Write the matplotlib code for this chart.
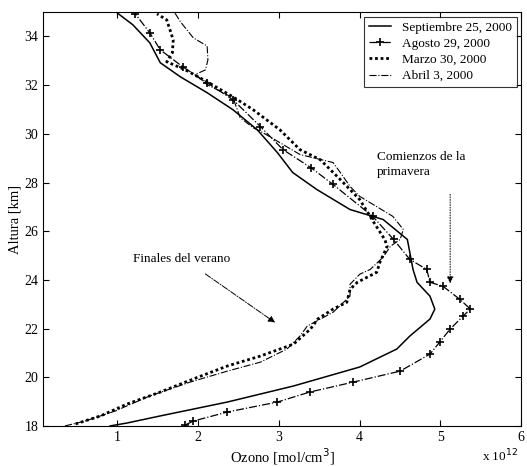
import numpy as np
import matplotlib
matplotlib.use("Agg")
import matplotlib.pyplot as plt

plt.rcParams['font.family'] = ['Liberation Serif', 'DejaVu Serif']

# ozone in units of 1e12 mol/cm^3, altitude in km
sep_oz = [0.91, 1.12, 1.53, 2.36, 3.18, 4.00, 4.46, 4.62, 4.87, 4.93, 4.87, 4.71, 4.66, 4.59,
          4.29, 3.88, 3.47, 3.17, 2.98, 2.73, 2.43, 2.11, 1.78, 1.53, 1.40, 1.19, 0.996]
sep_alt = [18.0, 18.12, 18.41, 18.98, 19.64, 20.42, 21.16, 21.69, 22.39, 22.80, 23.33, 23.90, 24.43, 25.66,
           26.48, 26.89, 27.71, 28.41, 29.23, 30.17, 30.99, 31.69, 32.34, 32.92, 33.74, 34.48, 34.97]

ago_oz = [1.84, 1.94, 2.36, 2.98, 3.38, 3.92, 4.50, 4.87, 4.99, 5.12, 5.28, 5.37, 5.24, 5.03, 4.87,
          4.83, 4.62, 4.42, 4.16, 3.67, 3.40, 3.05, 2.77, 2.43, 2.11, 1.81, 1.53, 1.40, 1.22]
ago_alt = [18.04, 18.20, 18.57, 18.98, 19.39, 19.80, 20.25, 20.95, 21.44, 21.98, 22.51, 22.80, 23.20, 23.74, 23.90,
           24.43, 24.84, 25.66, 26.61, 27.92, 28.60, 29.35, 30.30, 31.40, 32.10, 32.75, 33.45, 34.15, 34.93]

mar_oz = [0.48, 0.79, 1.12, 1.53, 1.94, 2.36, 2.77, 3.18, 3.39, 3.48, 3.67, 3.84, 3.88, 3.97, 4.21, 4.25,
          4.34, 4.31, 4.19, 4.00, 3.76, 3.51, 3.26, 3.01, 2.68, 2.43, 2.11, 1.84, 1.61, 1.68, 1.69, 1.61, 1.49]
mar_alt = [18.08, 18.41, 18.90, 19.39, 19.93, 20.46, 20.87, 21.36, 21.98, 22.39, 22.80, 23.08, 23.61, 23.90, 24.31, 24.72,
           25.38, 25.66, 26.28, 27.30, 28.12, 28.94, 29.35, 30.17, 30.99, 31.52, 32.14, 32.63, 32.96, 33.33, 33.86, 34.68, 34.93]

abr_oz = [0.35, 0.60, 0.97, 1.40, 1.90, 2.36, 2.77, 3.10, 3.26, 3.35, 3.67, 3.88, 3.88, 4.00, 4.13, 4.29, 4.38,
          4.50, 4.54, 4.41, 4.00, 3.88, 3.76, 3.67, 3.26, 2.80, 2.68, 2.52, 2.43, 2.11, 1.96, 2.09, 2.12, 2.11,
          1.94, 1.78, 1.71]
abr_alt = [18.0, 18.20, 18.61, 19.23, 19.80, 20.25, 20.62, 21.16, 21.69, 22.10, 22.67, 23.33, 23.82, 24.23, 24.43, 24.93, 25.38,
           25.66, 26.07, 26.61, 27.43, 27.84, 28.41, 28.82, 29.15, 30.05, 30.25, 30.66, 31.48, 32.02, 32.43, 32.63, 33.04, 33.61,
           33.94, 34.60, 34.97]

fig = plt.figure(figsize=(5.27, 4.67), dpi=100)
ax = fig.add_axes([0.082, 0.088, 0.907, 0.886])

ax.plot(sep_oz, sep_alt, "k-", linewidth=1.1, label="Septiembre 25, 2000")
ax.plot(ago_oz, ago_alt, "k-.", marker="+", markersize=6, markeredgewidth=1.2, linewidth=0.9,
        label="Agosto 29, 2000")
ax.plot(mar_oz, mar_alt, color="k", linestyle=(0, (1, 1)), linewidth=2.0, label="Marzo 30, 2000")
ax.plot(abr_oz, abr_alt, "k-.", linewidth=0.8, label="Abril 3, 2000")

ax.set_xlim(0.08, 6)
ax.set_ylim(18, 35)
ax.set_xticks([1, 2, 3, 4, 5, 6])
ax.set_yticks([18, 20, 22, 24, 26, 28, 30, 32, 34])
ax.tick_params(direction="in", top=True, right=True, labelsize=10, length=4)
ax.set_xlabel("Ozono [mol/cm$^3$]", fontsize=10.5, labelpad=2)
ax.set_ylabel("Altura [km]", fontsize=10.5, labelpad=2)
fig.text(0.915, 0.012, "x 10$^{12}$", fontsize=9.5)

ax.annotate("", xy=(2.98, 22.18), xytext=(2.06, 24.31),
            arrowprops=dict(arrowstyle="-|>", linestyle="-.", color="k", linewidth=0.7))
ax.text(1.79, 24.84, "Finales del verano", fontsize=9.5, ha="center", va="center")
ax.annotate("", xy=(5.12, 23.74), xytext=(5.12, 27.63),
            arrowprops=dict(arrowstyle="-|>", linestyle=":", color="k", linewidth=0.7))
ax.text(4.21, 28.74, "Comienzos de la\nprimavera", fontsize=9.5, ha="left", va="center",
        linespacing=1.4)

leg = ax.legend(loc="upper right", fontsize=9.5, frameon=True, fancybox=False, edgecolor="k",
                handlelength=1.7, borderpad=0.35, labelspacing=0.3, borderaxespad=0.35)
leg.get_frame().set_linewidth(0.8)

fig.savefig("out.png", dpi=100)
